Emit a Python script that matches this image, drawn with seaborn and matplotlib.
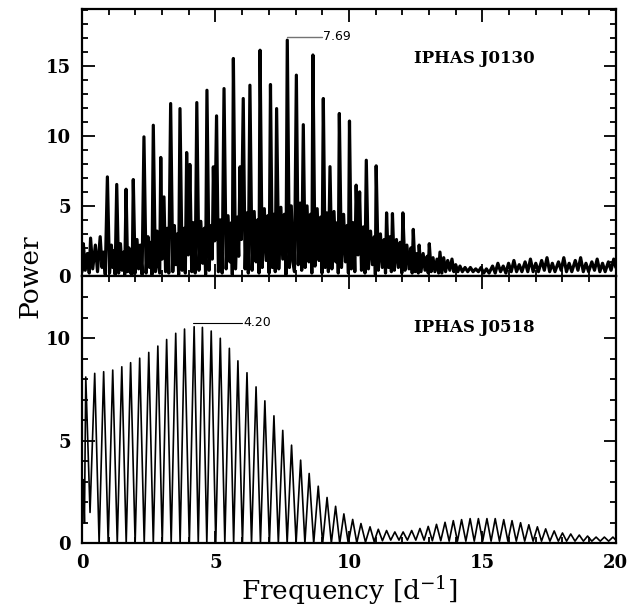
import numpy as np
import pandas as pd
import seaborn as sns
from matplotlib import pyplot as plt
from matplotlib.ticker import MultipleLocator

# turning points (peaks and troughs)
top_freq = [0.00, 0.05, 0.12, 0.20, 0.27, 0.32, 0.40, 0.50, 0.58, 0.68, 0.75, 0.80, 0.87,
            0.95, 1.03, 1.10, 1.15, 1.20, 1.24, 1.30, 1.37, 1.44, 1.50, 1.56, 1.60,
            1.65, 1.71, 1.76, 1.82, 1.88, 1.92, 1.99, 2.06, 2.12, 2.18, 2.25,
            2.32, 2.40, 2.47, 2.53, 2.58, 2.62, 2.67, 2.75, 2.81, 2.86, 2.91,
            2.95, 3.00, 3.07, 3.13, 3.19, 3.25, 3.32, 3.40, 3.46, 3.52, 3.57, 3.62,
            3.67, 3.75, 3.82, 3.87, 3.92, 3.98, 4.04, 4.11, 4.17, 4.24,
            4.30, 4.38, 4.45, 4.52, 4.58, 4.63, 4.68, 4.76, 4.84, 4.88, 4.92, 4.97,
            5.04, 5.11, 5.18, 5.25, 5.32, 5.40, 5.47, 5.54, 5.60, 5.63,
            5.67, 5.75, 5.82, 5.87, 5.92, 5.97, 6.04, 6.11, 6.17, 6.23,
            6.29, 6.37, 6.45, 6.52, 6.58, 6.63, 6.67, 6.75, 6.83, 6.90, 6.96, 7.01,
            7.06, 7.13, 7.18, 7.24, 7.29, 7.37, 7.45, 7.52, 7.58, 7.64,
            7.69, 7.77, 7.84, 7.90, 7.96, 8.03, 8.10, 8.17, 8.23,
            8.29, 8.36, 8.43, 8.50, 8.56, 8.61, 8.65, 8.73, 8.81, 8.88, 8.94, 8.99,
            9.04, 9.11, 9.17, 9.23, 9.29, 9.36, 9.44, 9.51, 9.56, 9.60,
            9.64, 9.72, 9.80, 9.87, 9.93, 9.98, 10.02, 10.09, 10.16, 10.22,
            10.27, 10.34, 10.40, 10.47, 10.54, 10.60, 10.65, 10.73, 10.81, 10.88, 10.95, 10.99,
            11.02, 11.10, 11.18, 11.25, 11.32, 11.37, 11.41, 11.48, 11.54, 11.59,
            11.63, 11.70, 11.78, 11.85, 11.92, 11.98, 12.02, 12.10, 12.17, 12.25, 12.32, 12.37,
            12.41, 12.48, 12.55, 12.60, 12.63, 12.70, 12.78, 12.85, 12.93, 12.97,
            13.01, 13.08, 13.15, 13.22, 13.30, 13.36, 13.41, 13.48,
            13.55, 13.62, 13.70, 13.78, 13.86, 13.93, 14.00, 14.08, 14.16, 14.25,
            14.35, 14.45, 14.55, 14.65, 14.75, 14.85, 14.95, 15.05, 15.15, 15.25,
            15.38, 15.48, 15.58, 15.68, 15.78, 15.88, 15.98, 16.08, 16.18, 16.28,
            16.38, 16.48, 16.60, 16.70, 16.80, 16.90, 17.00, 17.10, 17.22, 17.32,
            17.42, 17.52, 17.62, 17.72, 17.85, 17.95, 18.05, 18.15, 18.25, 18.35,
            18.48, 18.58, 18.68, 18.78, 18.88, 18.98, 19.10, 19.20, 19.30, 19.40,
            19.50, 19.60, 19.72, 19.82, 19.92, 20.00]
top_power = [0.3, 2.3, 0.4, 1.6, 0.2, 2.7, 0.5, 2.2, 0.3, 2.8, 0.6, 1.7, 0.1,
             7.07, 0.2, 2.2, 0.6, 1.8, 0.1, 6.53, 0.2, 2.3, 0.4, 1.7, 0.1,
             6.19, 0.3, 2.0, 0.2, 0.1, 6.88, 0.2, 2.6, 0.5, 2.2, 0.1,
             9.93, 0.2, 2.8, 0.6, 2.4, 0.1, 10.76, 0.3, 3.2, 0.8, 0.2,
             8.46, 1.2, 5.64, 0.3, 3.4, 0.2, 12.31, 0.3, 3.6, 0.8, 3.0, 0.1,
             11.95, 0.4, 3.4, 0.2, 8.81, 1.5, 7.96, 0.3, 3.8, 0.2,
             12.38, 0.4, 3.9, 0.9, 3.4, 0.1, 13.26, 0.4, 3.6, 1.2, 7.79, 2.5,
             11.43, 0.3, 4.0, 0.2, 13.38, 0.5, 4.3, 1.0, 3.8, 0.1,
             15.53, 0.5, 4.2, 1.4, 7.79, 2.6, 12.67, 0.5, 4.5, 0.2,
             13.62, 0.4, 4.6, 1.0, 4.0, 0.2, 16.12, 0.6, 4.8, 1.1, 4.3, 0.2,
             13.67, 0.6, 4.4, 0.3, 11.95, 0.5, 4.9, 1.2, 4.4, 0.1,
             16.84, 0.6, 5.0, 1.0, 0.3, 14.34, 0.8, 5.2, 0.4,
             10.8, 0.6, 5.0, 1.0, 4.4, 0.2, 15.78, 0.7, 4.8, 1.1, 4.2, 0.2,
             12.67, 0.6, 4.5, 0.3, 7.8, 0.5, 4.6, 1.0, 3.8, 0.2,
             11.6, 0.6, 4.4, 1.0, 3.6, 0.2, 11.06, 0.5, 3.8, 0.3,
             6.48, 1.5, 6.0, 0.4, 3.5, 0.2, 8.26, 0.5, 3.2, 0.8, 2.8, 0.1,
             7.86, 0.4, 3.0, 0.6, 2.6, 0.2, 4.5, 0.6, 2.8, 0.3,
             4.45, 0.4, 2.6, 0.6, 2.4, 0.2, 4.5, 0.4, 2.2, 0.5, 2.0, 0.2,
             3.32, 0.3, 1.6, 0.2, 2.2, 0.3, 1.6, 0.4, 1.4, 0.2,
             2.3, 0.3, 1.3, 0.3, 1.2, 0.2, 1.7, 0.2,
             1.3, 0.3, 1.1, 0.4, 1.2, 0.3, 0.8, 0.3, 0.7, 0.3,
             0.6, 0.3, 0.6, 0.3, 0.5, 0.3, 0.6, 0.2, 0.5, 0.2,
             0.7, 0.2, 0.9, 0.3, 0.7, 0.2, 0.9, 0.3, 1.1, 0.3,
             0.8, 0.3, 1.0, 0.3, 1.2, 0.3, 0.9, 0.3, 1.1, 0.4,
             1.3, 0.3, 0.9, 0.3, 1.0, 0.4, 1.3, 0.3, 0.9, 0.3,
             1.1, 0.4, 1.3, 0.3, 0.9, 0.3, 1.0, 0.4, 1.2, 0.3,
             0.9, 0.3, 1.0, 0.4, 1.2, 0.6]

bot_freq = [0.00, 0.05, 0.09, 0.14, 0.30, 0.475, 0.64, 0.81, 0.98, 1.15, 1.32,
            1.49, 1.655, 1.82, 1.99, 2.16, 2.33, 2.50, 2.67, 2.84, 3.005,
            3.17, 3.34, 3.51, 3.675, 3.84, 4.02, 4.20, 4.355, 4.51, 4.675,
            4.84, 5.01, 5.18, 5.35, 5.52, 5.68, 5.84, 6.01, 6.18, 6.35,
            6.52, 6.685, 6.85, 7.02, 7.19, 7.355, 7.52, 7.685, 7.85, 8.02,
            8.19, 8.35, 8.51, 8.68, 8.85, 9.015, 9.18, 9.34, 9.50, 9.655,
            9.81, 9.975, 10.14, 10.295, 10.45, 10.62, 10.79, 10.945, 11.10, 11.255,
            11.41, 11.565, 11.72, 11.875, 12.03, 12.19, 12.35, 12.505, 12.66, 12.815,
            12.97, 13.125, 13.28, 13.44, 13.60, 13.755, 13.91, 14.065, 14.22, 14.38,
            14.54, 14.695, 14.85, 15.01, 15.17, 15.325, 15.48, 15.64, 15.80, 15.955,
            16.11, 16.27, 16.43, 16.585, 16.74, 16.90, 17.06, 17.215, 17.37, 17.53,
            17.69, 17.845, 18.00, 18.155, 18.31, 18.47, 18.63, 18.785, 18.94, 19.10,
            19.26, 19.415, 19.57, 19.73, 19.89, 20.00]
bot_power = [2.9, 3.1, 1.0, 8.1, 1.5, 8.28, 0.0, 8.36, 0.0, 8.44, 0.0,
             8.60, 0.0, 8.80, 0.0, 9.02, 0.0, 9.30, 0.0, 9.61, 0.0,
             9.93, 0.0, 10.23, 0.0, 10.44, 0.0, 10.55, 0.0, 10.52, 0.0,
             10.34, 0.0, 9.99, 0.0, 9.50, 0.0, 8.89, 0.0, 8.31, 0.0,
             7.62, 0.0, 6.94, 0.0, 6.21, 0.0, 5.50, 0.0, 4.78, 0.0,
             4.05, 0.0, 3.40, 0.0, 2.78, 0.0, 2.23, 0.0, 1.80, 0.0,
             1.43, 0.0, 1.16, 0.02, 0.96, 0.05, 0.80, 0.08, 0.68, 0.12,
             0.62, 0.15, 0.55, 0.15, 0.55, 0.15, 0.62, 0.15, 0.72, 0.15,
             0.82, 0.12, 0.92, 0.12, 1.02, 0.10, 1.10, 0.10, 1.15, 0.10,
             1.20, 0.10, 1.20, 0.10, 1.20, 0.10, 1.20, 0.10, 1.15, 0.10,
             1.10, 0.10, 1.00, 0.10, 0.90, 0.10, 0.80, 0.10, 0.70, 0.10,
             0.60, 0.10, 0.50, 0.10, 0.45, 0.10, 0.40, 0.10, 0.35, 0.10,
             0.30, 0.10, 0.30, 0.10, 0.30, 0.15]

panels = ["IPHAS J0130", "IPHAS J0518"]
best_freq = [7.69, 4.20]
best_power = [16.84, 10.55]

top = pd.DataFrame({"Frequency": top_freq, "Power": top_power})
bot = pd.DataFrame({"Frequency": bot_freq, "Power": bot_power})

sns.set_style("ticks")
plt.rcParams["font.family"] = ["DejaVu Serif"]
plt.rcParams.update({"text.color": "black", "axes.labelcolor": "black",
                     "xtick.color": "black", "ytick.color": "black",
                     "axes.edgecolor": "black", "mathtext.fontset": "dejavuserif"})

fig = plt.figure(figsize=(6.31, 6.09), dpi=100)
ax1 = fig.add_axes([0.130, 0.547, 0.846, 0.439])
ax2 = fig.add_axes([0.130, 0.108, 0.846, 0.438])

sns.lineplot(data=top, x="Frequency", y="Power", ax=ax1, color="black",
             linewidth=2.3, estimator=None, sort=False)
sns.lineplot(data=bot, x="Frequency", y="Power", ax=ax2, color="black",
             linewidth=1.2, estimator=None, sort=False)

ax1.set_ylim(0, 19.1)
ax2.set_ylim(0, 13.0)
for ax in (ax1, ax2):
    ax.set_xlim(0, 20)
    ax.xaxis.set_major_locator(MultipleLocator(5))
    ax.xaxis.set_minor_locator(MultipleLocator(1))
    ax.yaxis.set_major_locator(MultipleLocator(5))
    ax.yaxis.set_minor_locator(MultipleLocator(1))
    ax.tick_params(which="both", direction="in", top=True, right=True, width=1.3)
    ax.tick_params(which="major", length=9, labelsize=13, pad=8)
    ax.tick_params(which="minor", length=4.5)
    for lab in ax.get_xticklabels() + ax.get_yticklabels():
        lab.set_fontweight("bold")
    for s in ax.spines.values():
        s.set_linewidth(1.6)
    ax.set_xlabel("")
    ax.set_ylabel("")
ax1.tick_params(labelbottom=False)

ax1.text(12.45, 15.5, panels[0], fontsize=12, fontweight="bold", va="center")
ax2.text(12.45, 10.5, panels[1], fontsize=12, fontweight="bold", va="center")

ax1.plot([best_freq[0], best_freq[0] + 1.3], [best_power[0] + 0.25] * 2,
         color="0.45", linewidth=1.0)
ax1.text(best_freq[0] + 1.35, best_power[0] + 0.25, f"{best_freq[0]:.2f}",
         fontsize=9, family="DejaVu Sans", va="center", ha="left")
ax2.plot([best_freq[1] - 0.05, best_freq[1] + 1.8], [best_power[1] + 0.2] * 2,
         color="black", linewidth=0.8)
ax2.text(best_freq[1] + 1.85, best_power[1] + 0.2, f"{best_freq[1]:.2f}",
         fontsize=9, family="DejaVu Sans", va="center", ha="left")

fig.text(0.048, 0.547, "Power", rotation=90, fontsize=19, ha="center", va="center")
fig.text(0.553, 0.030, "Frequency [d$^{-1}$]", fontsize=19, ha="center", va="center")

fig.savefig("out.png", dpi=100)
